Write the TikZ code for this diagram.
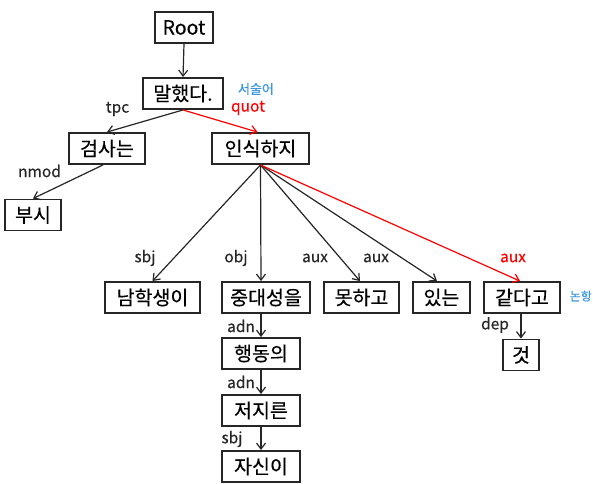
\documentclass[tikz,border=0pt]{standalone}
\usepackage{fontspec}
\setmainfont{Noto Sans CJK KR}[FakeBold=0.3]
\usetikzlibrary{arrows.meta}
\begin{document}
\begin{tikzpicture}[x=1pt,y=-1pt,
  box/.style={draw=black!85,line width=1.9pt,inner sep=0pt,minimum height=31pt,font=\fontsize{19.5}{19.5}\selectfont},
  arr/.style={draw=black!85,line width=1.2pt,-{Straight Barb[length=6pt,width=9pt]}},
  redarr/.style={arr,draw=red},
  lab/.style={font=\fontsize{15.5}{15.5}\selectfont,text=black!85,inner sep=0pt},
  redlab/.style={lab,text=red},
  note/.style={font=\fontsize{13}{13}\selectfont,text={rgb,255:red,60;green,150;blue,220},inner sep=0pt}]
\useasboundingbox (0,0) rectangle (593,483);
\fill[white] (0,0) rectangle (593,483);
\node[box,minimum width=58pt] (root) at (184,27.5) {Root};
\node[box,minimum width=80pt] (mal) at (183,93.5) {말했다.};
\node[box,minimum width=76pt] (geom) at (107,148.5) {검사는};
\node[box,minimum width=97pt] (insik) at (260.5,148.5) {인식하지};
\node[box,minimum width=56pt] (busi) at (33,215) {부시};
\node[box,minimum width=95pt] (nam) at (152.5,297.5) {남학생이};
\node[box,minimum width=88pt] (jung) at (266,297.5) {중대성을};
\node[box,minimum width=75pt] (mot) at (361.5,297.5) {못하고};
\node[box,minimum width=57pt] (iss) at (441.5,297.5) {있는};
\node[box,minimum width=76pt] (gat) at (522,297.5) {같다고};
\node[box,minimum width=36pt] (geot) at (521,355) {것};
\node[box,minimum width=78pt] (haeng) at (261,353.5) {행동의};
\node[box,minimum width=78pt] (jeo) at (261,410.5) {저지른};
\node[box,minimum width=78pt] (jasin) at (261,466.5) {자신이};

\draw[arr] (root.south) -- (mal.north);
\draw[arr] (mal.south) -- (geom.north);
\draw[redarr] (mal.south) -- ([xshift=-3pt]insik.north);
\draw[arr] ([xshift=-4pt]geom.south) -- (busi.north);
\draw[arr] (insik.south) -- (nam.north);
\draw[arr] (insik.south) -- ([xshift=-5pt]jung.north);
\draw[arr] (insik.south) -- ([xshift=-1.5pt]mot.north);
\draw[arr] (insik.south) -- ([xshift=-4.5pt]iss.north);
\draw[redarr] (insik.south) -- ([xshift=-2pt]gat.north);
\draw[arr] (jung.south -| haeng.north) -- (haeng.north);
\draw[arr] (haeng.south) -- (jeo.north);
\draw[arr] (jeo.south) -- (jasin.north);
\draw[arr] (gat.south -| geot.north) -- (geot.north);

\node[lab] (l1) at (117.5,109) {tpc};
\node[redlab] (l2) at (248,108) {quot};
\node[note] (n1) at (256,89) {서술어};
\node[lab] (l3) at (39.5,171) {nmod};
\node[lab] (l4) at (145,258) {sbj};
\node[lab] (l5) at (236,258) {obj};
\node[lab] (l6) at (315,258) {aux};
\node[lab] (l7) at (376,258) {aux};
\node[redlab] (l8) at (513,258) {aux};
\node[lab] (l9) at (241,326) {adn};
\node[lab] (l10) at (241,382) {adn};
\node[lab] (l11) at (232,439) {sbj};
\node[lab] (l12) at (495,325) {dep};
\node[note,anchor=east,font=\fontsize{12}{12}\selectfont] (n2) at (592,296) {논항};
\end{tikzpicture}
\end{document}
